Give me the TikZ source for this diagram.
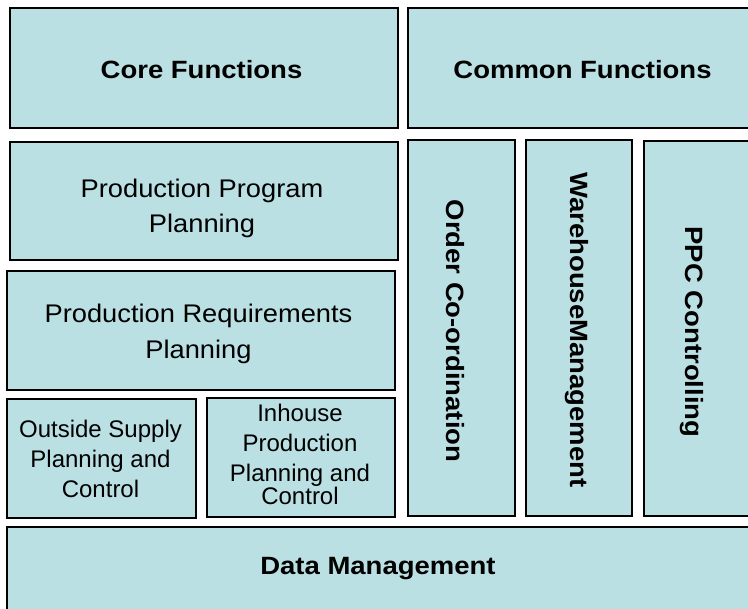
\documentclass[tikz,border=0pt]{standalone}
\usepackage{fontspec}
\setmainfont{Liberation Sans}
\newfontfamily\widebold{Liberation Sans}[FakeStretch=1.1]
\newfontfamily\widereg{Liberation Sans}[FakeStretch=1.07]
\definecolor{boxfill}{RGB}{187,224,227}
\begin{document}
\begin{tikzpicture}[x=1pt,y=-1pt,
  box/.style={draw=black, line width=2pt, fill=boxfill, inner sep=0pt, rectangle},
  lbl/.style={inner sep=0pt, align=center, text=black, anchor=base},
  heading/.style={font=\widebold\bfseries\fontsize{25}{30}\selectfont},
  midtext/.style={font=\widereg\fontsize{25.5}{35.5}\selectfont},
  smalltext/.style={font=\fontsize{24}{30}\selectfont}]
\useasboundingbox (0,0) rectangle (748,609);
\clip (0,0) rectangle (748,609);
% boxes
\node[box, minimum width=388pt, minimum height=120pt] (core) at (204,68) {};
\node[box, minimum width=362pt, minimum height=120pt] (common) at (589,68) {};
\node[box, minimum width=388pt, minimum height=118pt] (ppp) at (204,201) {};
\node[box, minimum width=388pt, minimum height=119pt] (prp) at (201,330.5) {};
\node[box, minimum width=189pt, minimum height=119pt] (osp) at (101.5,458.5) {};
\node[box, minimum width=188pt, minimum height=119pt] (ihp) at (301,457.5) {};
\node[box, minimum width=107pt, minimum height=376pt] (order) at (461.5,328) {};
\node[box, minimum width=106pt, minimum height=376pt] (ware) at (579,328) {};
\node[box, minimum width=126pt, minimum height=375pt] (ppc) at (707,328.5) {};
\node[box, minimum width=763pt, minimum height=93pt] (dm) at (388.5,573.5) {};
% labels (base anchor = baseline of the last line)
\node[lbl, heading] (coretext) at (201.5,79) {Core Functions};
\node[lbl, heading] (commontext) at (582.5,79) {Common Functions};
\node[lbl, midtext] (ppptext) at (202,233) {Production Program\\Planning};
\node[lbl, midtext] (prptext) at (198.5,358.5) {Production Requirements\\Planning};
\node[lbl, smalltext] (osptext) at (100.5,498) {Outside Supply\\Planning and\\Control};
\node[lbl, smalltext] (ihptext) at (300,505) {Inhouse\\Production\\Planning and\\[-7pt]Control};
\node[heading, inner sep=0pt, rotate=-90] (ordertext) at (455.5,331) {Order Co-ordination};
\node[heading, inner sep=0pt, rotate=-90] (waretext) at (577,330) {WarehouseManagement};
\node[heading, inner sep=0pt, rotate=-90] (ppctext) at (692,332) {PPC Controlling};
\node[lbl, heading] (dmtext) at (378,575) {Data Management};
\end{tikzpicture}
\end{document}
